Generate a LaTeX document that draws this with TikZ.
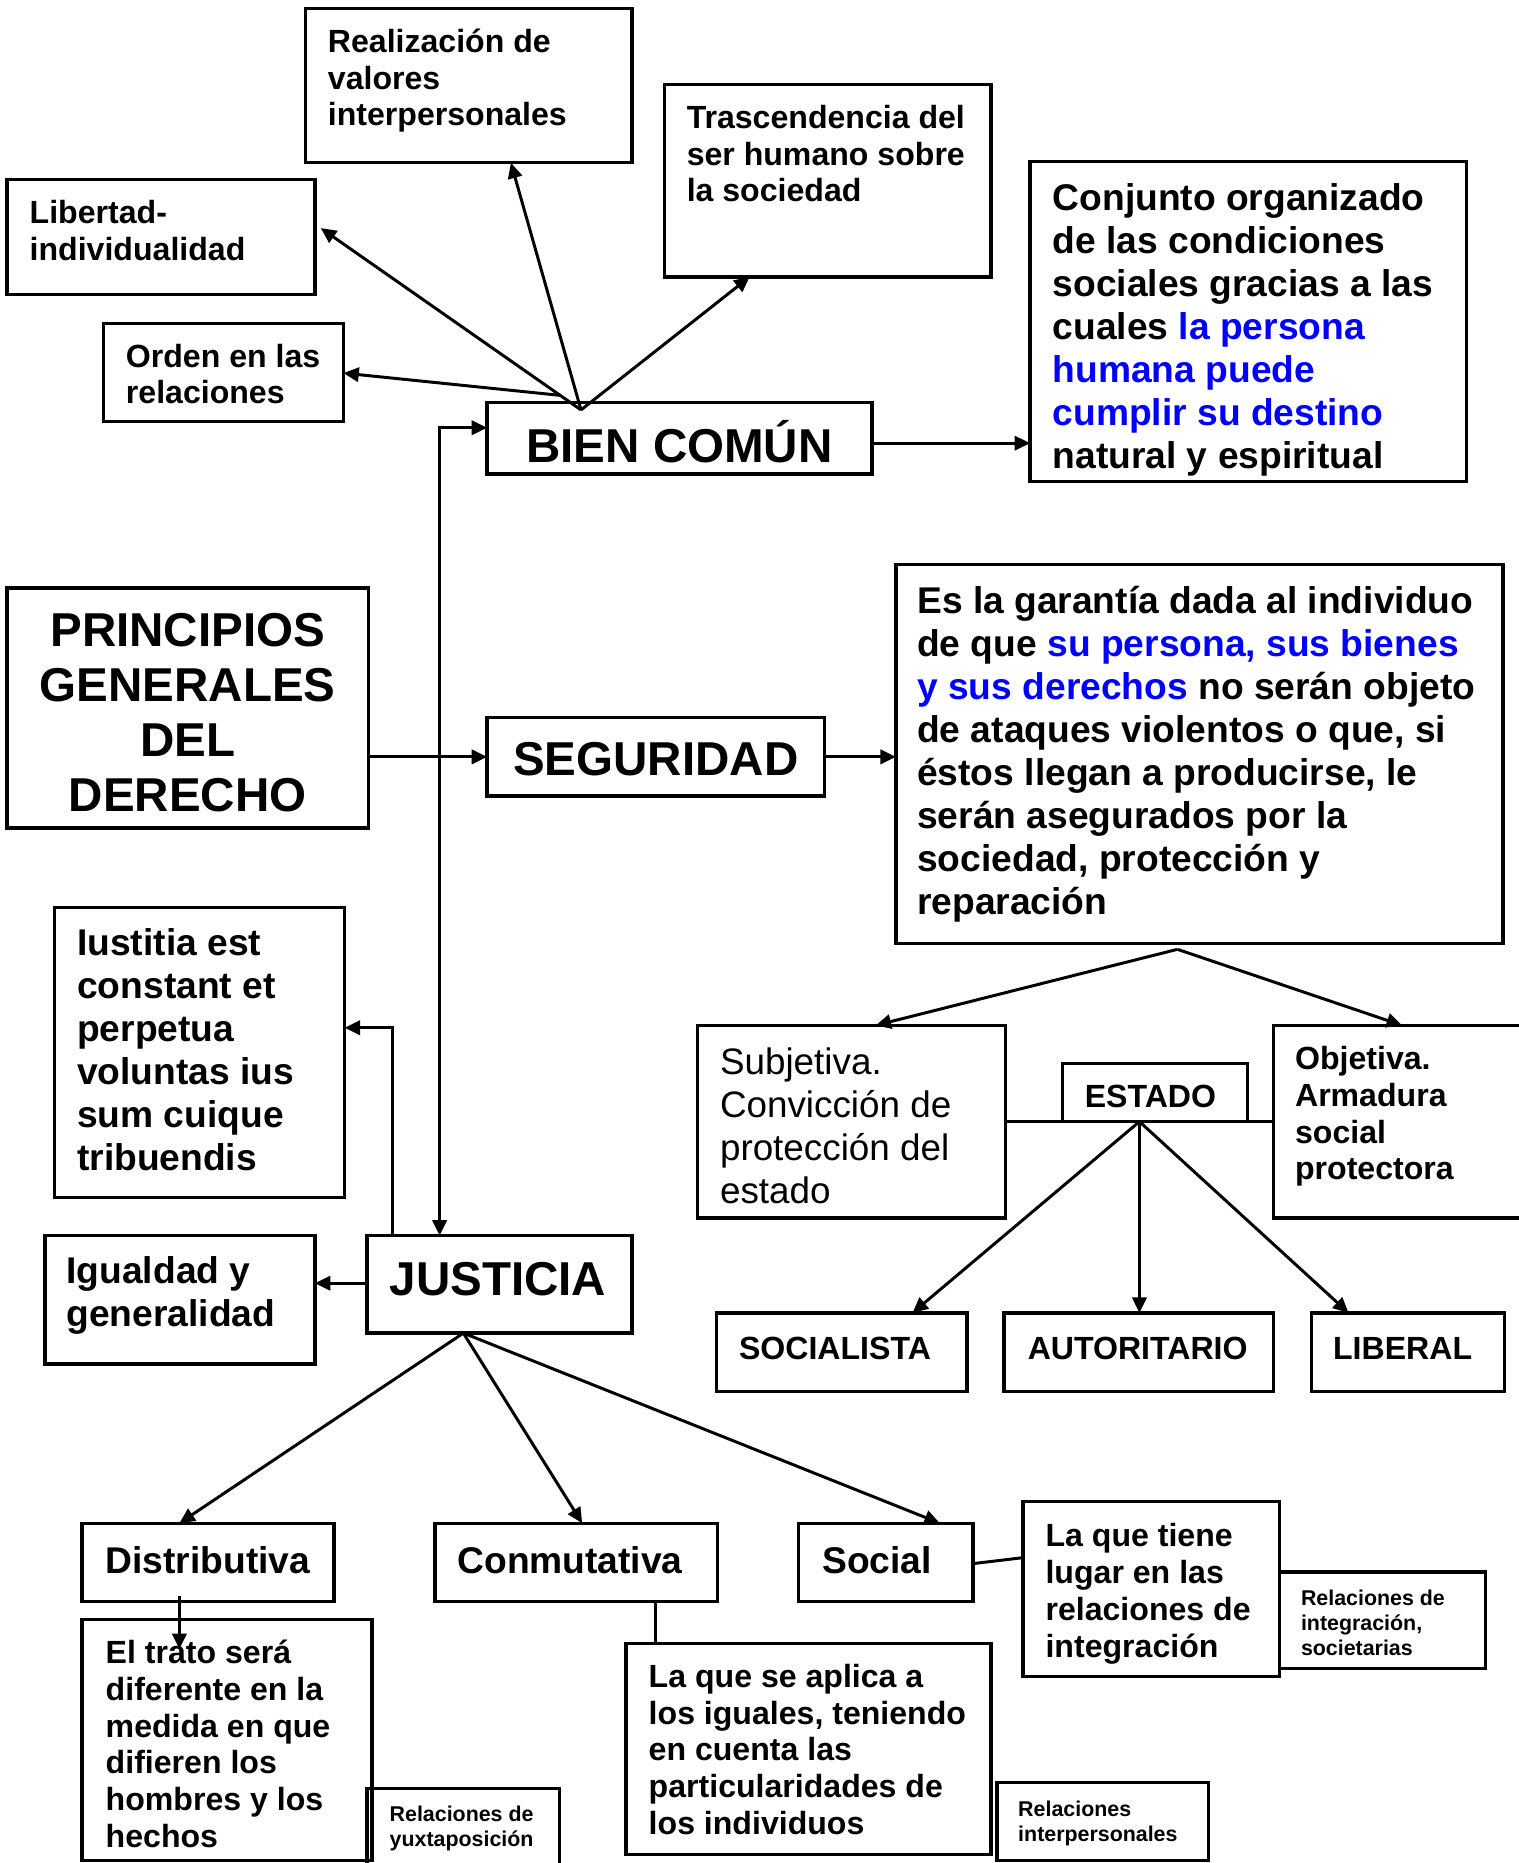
\documentclass[tikz,border=0pt]{standalone}
\usepackage{fontspec}
\setmainfont{Liberation Sans}
\usetikzlibrary{calc,arrows.meta}
\newcommand\myfA{\fontsize{13.5pt}{15.5pt}\selectfont\bfseries}
\newcommand\myfB{\fontsize{15.65pt}{18.1pt}\selectfont\bfseries}
\newcommand\myfC{\fontsize{20pt}{23.15pt}\selectfont\bfseries}
\newcommand\myfD{\fontsize{9pt}{10.5pt}\selectfont\bfseries}
\newcommand\myfR{\fontsize{15.5pt}{18.15pt}\selectfont}
\newcommand\mlines[1]{\vtop{\halign{##\hfil\cr#1\crcr}}}
\newcommand\mlinesc[1]{\vtop{\halign{\hfil##\hfil\cr#1\crcr}}}
\newcommand\boxn[5]{\node[box,minimum width={(#4-#2)*0.5pt},minimum height={(#5-#3)*0.5pt}] (#1) at (#2,#3) {};}
\newcommand\txtn[4]{\node[txt] (#1) at (#2,#3) {#4};}
\begin{document}
\begin{tikzpicture}[x=0.5pt,y=-0.5pt,
  box/.style={draw,line width=1.4pt,anchor=north west,inner sep=0pt,outer sep=0pt},
  txt/.style={anchor=base west,inner sep=0pt,outer sep=0pt,yshift=-1pt},
  conn/.style={line width=1.25pt},
  arr/.style={conn,-{Triangle[length=6.5pt,width=6pt]}},
  dbl/.style={conn,{Triangle[length=6.5pt,width=6pt]}-{Triangle[length=6.5pt,width=6pt]}}]
\useasboundingbox (0,0) rectangle (1278,1568);
% boxes
\boxn{real}{257}{7}{532}{137}
\boxn{tras}{559}{71}{834}{233}
\boxn{lib}{6}{151}{265}{248}
\boxn{ord}{87}{272}{289}{355}
\boxn{bien}{410}{339}{734}{399}
\boxn{conj}{867}{136}{1234}{405}
\boxn{prin}{6}{495}{310}{697}
\boxn{seg}{410}{604}{694}{670}
\boxn{gar}{754}{475}{1265}{794}
\boxn{iust}{46}{764}{290}{1008}
\boxn{igu}{38}{1040}{265}{1148}
\boxn{jus}{309}{1040}{532}{1122}
\boxn{subj}{587}{863}{846}{1025}
\boxn{est}{894}{895}{1050}{944}
\boxn{obj}{1072}{863}{1290}{1025}
\boxn{soc}{603}{1105}{814}{1171}
\boxn{aut}{845}{1105}{1072}{1171}
\boxn{libl}{1104}{1105}{1266}{1171}
\boxn{dist}{69}{1282}{281}{1348}
\boxn{conm}{366}{1282}{604}{1348}
\boxn{socl}{672}{1282}{819}{1348}
\boxn{ltie}{861}{1264}{1077}{1411}
\boxn{rint}{1077}{1323}{1250}{1404}
\boxn{trat}{69}{1363}{313}{1566}
\boxn{ryux}{309}{1505}{471}{1576}
\boxn{lapl}{527}{1383}{834}{1561}
\boxn{rinp}{839}{1500}{1017}{1566}
% texts
\txtn{treal}{276}{42}{\myfA\mlines{Realización de\cr valores\cr interpersonales}}
\txtn{ttras}{578}{106}{\myfA\mlines{Trascendencia del\cr ser humano sobre\cr la sociedad}}
\txtn{tlib}{25}{186}{\myfA\mlines{Libertad-\cr individualidad}}
\txtn{tord}{106}{307}{\myfA\mlines{Orden en las\cr relaciones}}
\txtn{tbien}{443}{387}{\myfC BIEN COMÚN}
\txtn{tconj}{886}{175}{\myfB\mlines{Conjunto organizado\cr de las condiciones\cr sociales gracias a las\cr cuales \textcolor{blue}{la persona}\cr \textcolor{blue}{humana puede}\cr \textcolor{blue}{cumplir su destino}\cr natural y espiritual}}
\node[txt,anchor=base] (tprin) at (158,542) {\myfC\mlinesc{PRINCIPIOS\cr GENERALES\cr DEL\cr DERECHO}};
\txtn{tseg}{432}{651}{\myfC SEGURIDAD}
\txtn{tgar}{772}{514}{\myfB\mlines{Es la garantía dada al individuo\cr de que \textcolor{blue}{su persona, sus bienes}\cr \textcolor{blue}{y sus derechos} no serán objeto\cr de ataques violentos o que, si\cr éstos llegan a producirse, le\cr serán asegurados por la\cr sociedad, protección y\cr reparación}}
\txtn{tiust}{65}{802}{\myfB\mlines{Iustitia est\cr constant et\cr perpetua\cr voluntas ius\cr sum cuique\cr tribuendis}}
\txtn{tigu}{56}{1078}{\myfB\mlines{Igualdad y\cr generalidad}}
\txtn{tjus}{328}{1088}{\myfC JUSTICIA}
\txtn{tsubj}{606}{902}{\myfR\mlines{Subjetiva.\cr Convicción de\cr protección del\cr estado}}
\txtn{test}{913}{930}{\myfA ESTADO}
\txtn{tobj}{1090}{898}{\myfA\mlines{Objetiva.\cr Armadura\cr social\cr protectora}}
\txtn{tsoc}{622}{1142}{\myfA SOCIALISTA}
\txtn{taut}{865}{1142}{\myfA AUTORITARIO}
\txtn{tlibl}{1122}{1142}{\myfA LIBERAL}
\txtn{tdist}{89}{1322}{\myfB Distributiva}
\txtn{tconm}{385}{1322}{\myfB Conmutativa}
\txtn{tsocl}{692}{1322}{\myfB Social}
\txtn{tltie}{880}{1300}{\myfA\mlines{La que tiene\cr lugar en las\cr relaciones de\cr integración}}
\txtn{trint}{1095}{1349}{\myfD\mlines{Relaciones de\cr integración,\cr societarias}}
\txtn{ttrat}{89}{1398}{\myfA\mlines{El trato será\cr diferente en la\cr medida en que\cr difieren los\cr hombres y los\cr hechos}}
\txtn{tryux}{328}{1531}{\myfD\mlines{Relaciones de\cr yuxtaposición}}
\txtn{tlapl}{546}{1418}{\myfA\mlines{La que se aplica a\cr los iguales, teniendo\cr en cuenta las\cr particularidades de\cr los individuos}}
\txtn{trinp}{857}{1527}{\myfD\mlines{Relaciones\cr interpersonales}}
% connectors: BIEN COMUN
\coordinate (bchub) at ($(bien.north west)+(79,6)$);
\coordinate (libtip) at ($(lib.north east)+(5,41)$);
\draw[arr] (bchub) -- (libtip);
\draw[arr] (bchub) -- ($(real.south west)+(173,0)$);
\draw[arr] (bchub) -- ($(tras.south west)+(72,0)$);
\draw[arr] ($(bchub)!0.08!(libtip)$) -- ($(ord.north east)+(0,42)$);
\coordinate (bcr) at ($(bien.north east)+(0,34)$);
\draw[arr] (bcr) -- (conj.west |- bcr);
\draw[dbl] ($(bien.north west)+(0,21)$) -| ($(jus.north west)+(61,0)$);
% SEGURIDAD
\draw[arr] (prin.east |- seg.west) -- (seg.west);
\draw[arr] (seg.east) -- (gar.west |- seg.east);
\coordinate (garhub) at ($(gar.south west)+(237,5)$);
\draw[arr] (garhub) -- ($(subj.north west)+(150,0)$);
\draw[arr] (garhub) -- ($(obj.north west)+(108,0)$);
\draw[conn] (subj.east |- est.south) -- (obj.west |- est.south);
\coordinate (ehub) at ($(est.south west)+(65,0)$);
\draw[arr] (ehub) -- ($(soc.north west)+(165,0)$);
\draw[arr] (ehub) -- (ehub |- aut.north);
\draw[arr] (ehub) -- ($(libl.north west)+(31,0)$);
% JUSTICIA
\draw[arr] ($(jus.north west)+(21,0)$) |- ($(iust.north east)+(0,101)$);
\coordinate (jl) at ($(jus.north west)+(0,40)$);
\draw[arr] (jl) -- (igu.east |- jl);
\coordinate (jhub) at ($(jus.south west)+(81,0)$);
\draw[arr] (jhub) -- ($(dist.north west)+(82,0)$);
\draw[arr] (jhub) -- ($(conm.north west)+(124,0)$);
\draw[arr] (jhub) -- ($(socl.north west)+(119,0)$);
\draw[arr] ($(dist.south west)+(82,-5)$) -- ($(trat.north west)+(82,25)$);
\coordinate (cm) at ($(conm.south west)+(186,0)$);
\draw[conn] (cm) -- (cm |- lapl.north);
\draw[conn] ($(socl.north east)+(0,34)$) -- ($(ltie.north west)+(0,47)$);
\end{tikzpicture}
\end{document}
